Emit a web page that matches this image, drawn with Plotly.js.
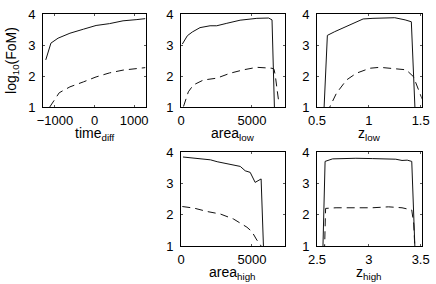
<!DOCTYPE html>
<html>
<head>
<meta charset="utf-8">
<script src="https://cdn.plot.ly/plotly-3.0.1.min.js"></script>
<style>html,body{margin:0;padding:0;background:#fff;}#chart{width:436px;height:284px;}</style>
</head>
<body>
<div id="chart"></div>
<script>
// ---- data ----
const yTicks = [1, 2, 3, 4];
const yTitle = 'log<sub>10</sub>(FoM)';
const xTitles = ['time<sub>diff</sub>', 'area<sub>low</sub>', 'z<sub>low</sub>', 'area<sub>high</sub>', 'z<sub>high</sub>'];
const xTicks1 = [-1000, 0, 1000];
const xTicks2 = [0, 5000];
const xTicks3 = [0.5, 1, 1.5];
const xTicks4 = [0, 5000];
const xTicks5 = [2.5, 3, 3.5];

// time_diff
const timeSolidX = [-1230, -1100, -920, -620, -280, 40, 380, 720, 1070, 1280];
const timeSolidY = [2.52, 3.06, 3.22, 3.38, 3.51, 3.63, 3.69, 3.78, 3.82, 3.85];
const timeDashX = [-1230, -1130, -890, -620, -280, 40, 380, 720, 1070, 1280];
const timeDashY = [0.6, 1.0, 1.46, 1.65, 1.81, 1.97, 2.10, 2.19, 2.24, 2.27];

// area_low
const areaLowSolidX = [94, 450, 800, 1340, 2050, 2520, 3230, 4170, 5350, 6180, 6420, 6600];
const areaLowSolidY = [3.03, 3.30, 3.42, 3.56, 3.62, 3.62, 3.70, 3.80, 3.86, 3.87, 3.81, 0.8];
const areaLowDashX = [100, 165, 520, 870, 1580, 2520, 3470, 4410, 5350, 6420, 6560, 6650, 6780, 6900];
const areaLowDashY = [0.6, 1.0, 1.49, 1.71, 1.87, 1.93, 2.09, 2.20, 2.28, 2.25, 2.22, 2.02, 1.55, 1.15];

// z_low
const zLowSolidX = [0.566, 0.600, 0.671, 0.768, 0.880, 0.945, 1.040, 1.140, 1.250, 1.350, 1.410, 1.447];
const zLowSolidY = [0.8, 3.31, 3.43, 3.58, 3.73, 3.84, 3.86, 3.87, 3.88, 3.81, 3.75, 0.8];
const zLowDashX = [0.610, 0.623, 0.687, 0.784, 0.880, 1.010, 1.106, 1.235, 1.360, 1.430, 1.477, 1.515];
const zLowDashY = [0.8, 1.0, 1.44, 1.87, 2.09, 2.25, 2.28, 2.25, 2.20, 1.98, 1.55, 1.25];

// area_high
const areaHighSolidX = [140, 1380, 2080, 2550, 3480, 4180, 4530, 4880, 5230, 5650, 5830];
const areaHighSolidY = [3.84, 3.77, 3.75, 3.69, 3.61, 3.54, 3.40, 3.35, 3.03, 3.14, 0.8];
const areaHighDashX = [93, 910, 1850, 2780, 3710, 4650, 5000, 5350, 5580, 5750];
const areaHighDashY = [2.26, 2.21, 2.10, 2.02, 1.86, 1.60, 1.46, 1.19, 1.06, 0.9];

// z_high
const zHighSolidX = [2.556, 2.578, 2.650, 2.716, 2.875, 3.033, 3.190, 3.260, 3.320, 3.370, 3.414, 3.446];
const zHighSolidY = [0.8, 3.70, 3.78, 3.79, 3.80, 3.79, 3.78, 3.77, 3.73, 3.74, 3.70, 0.8];
const zHighDashX = [2.572, 2.583, 2.684, 2.875, 3.033, 3.190, 3.320, 3.414, 3.433, 3.446];
const zHighDashY = [0.8, 2.20, 2.22, 2.21, 2.22, 2.25, 2.22, 2.15, 1.70, 0.8];

// ---- build traces ----
const solid = {color: '#111', width: 1};
const dashed = {color: '#111', width: 1, dash: '8px,5px'};
function pair(xs, ys, xd, yd, n) {
  const ax = n === 1 ? '' : String(n);
  return [
    {x: xs, y: ys, type: 'scatter', mode: 'lines', line: solid, xaxis: 'x' + ax, yaxis: 'y' + ax, hoverinfo: 'skip'},
    {x: xd, y: yd, type: 'scatter', mode: 'lines', line: dashed, xaxis: 'x' + ax, yaxis: 'y' + ax, hoverinfo: 'skip'}
  ];
}
const data = [].concat(
  pair(timeSolidX, timeSolidY, timeDashX, timeDashY, 1),
  pair(areaLowSolidX, areaLowSolidY, areaLowDashX, areaLowDashY, 2),
  pair(zLowSolidX, zLowSolidY, zLowDashX, zLowDashY, 3),
  pair(areaHighSolidX, areaHighSolidY, areaHighDashX, areaHighDashY, 4),
  pair(zHighSolidX, zHighSolidY, zHighDashX, zHighDashY, 5)
);

const W = 436, H = 284;
const cols = [[43, 146], [181, 284.5], [317, 421.7]];
const rows = [[14, 107], [152, 246]];
const FAM = 'Liberation Sans, Arial, Helvetica, sans-serif';
const font = {family: FAM, size: 13, color: '#000'};
const tfont = {family: FAM, size: 14, color: '#000'};
function xdom(c) { return [cols[c][0] / W, cols[c][1] / W]; }
function ydom(r) { return [(H - rows[r][1]) / H, (H - rows[r][0]) / H]; }

const common = {
  showline: true, linecolor: '#000', linewidth: 1, mirror: 'ticks',
  ticks: 'inside', ticklen: 2, tickcolor: '#555', tickwidth: 1,
  showgrid: false, zeroline: false, automargin: false,
  tickfont: font
};
function xa(c, r, range, ticks, anchor) {
  return Object.assign({}, common, {
    domain: xdom(c), range: range, tickmode: 'array', tickvals: ticks,
    anchor: anchor, ticklabelstandoff: 1
  });
}
function ya(c, r, anchor, title) {
  const o = Object.assign({}, common, {
    domain: ydom(r), range: [1, 4], tickmode: 'array', tickvals: yTicks, anchor: anchor,
    ticklabelstandoff: 4
  });
  if (title) o.title = {text: title, font: tfont, standoff: 8};
  return o;
}

// x-axis titles placed just under each subplot's tick labels
const titleAxes = ['x', 'x2', 'x3', 'x4', 'x5'];
const titleYAxes = ['y', 'y2', 'y3', 'y4', 'y5'];
const annotations = xTitles.map((t, i) => ({
  text: t, showarrow: false, font: tfont,
  xref: titleAxes[i] + ' domain', x: 0.5, xanchor: 'center',
  yref: titleYAxes[i] + ' domain', y: 0, yanchor: 'top', yshift: -16
}));

const layout = {
  width: W, height: H, margin: {l: 0, r: 0, t: 0, b: 0},
  paper_bgcolor: '#fff', plot_bgcolor: '#fff', showlegend: false, font: font,
  annotations: annotations,
  xaxis: xa(0, 0, [-1300, 1300], xTicks1, 'y'),
  yaxis: ya(0, 0, 'x', yTitle),
  xaxis2: xa(1, 0, [0, 7300], xTicks2, 'y2'),
  yaxis2: ya(1, 0, 'x2'),
  xaxis3: xa(2, 0, [0.5, 1.51], xTicks3, 'y3'),
  yaxis3: ya(2, 0, 'x3'),
  xaxis4: xa(1, 1, [0, 7300], xTicks4, 'y4'),
  yaxis4: ya(1, 1, 'x4'),
  xaxis5: xa(2, 1, [2.5, 3.51], xTicks5, 'y5'),
  yaxis5: ya(2, 1, 'x5')
};

Plotly.newPlot('chart', data, layout, {staticPlot: true, displayModeBar: false});
</script>
</body>
</html>
